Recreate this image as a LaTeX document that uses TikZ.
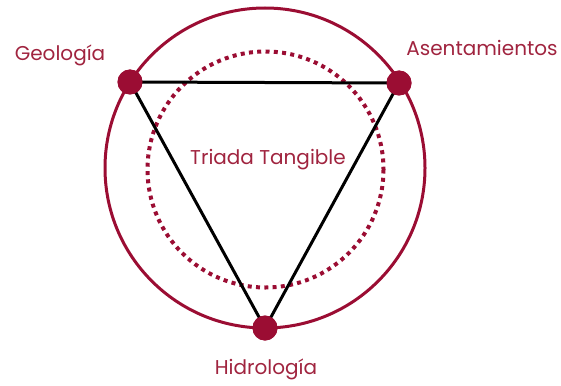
\documentclass[tikz,border=0pt]{standalone}
\usepackage{fontspec}
\setmainfont{Poppins}
\definecolor{wine}{HTML}{9B0D33}
\definecolor{winetext}{HTML}{A0243F}
\begin{document}
\begin{tikzpicture}[x=1pt,y=-1pt,
  dot/.style={circle,fill=wine,inner sep=0pt,minimum size=25pt},
  lbl/.style={text=winetext,font=\fontsize{20}{20}\selectfont,inner sep=0pt},
  edge/.style={black,line width=3pt},
  ring/.style={wine,line width=3pt},
  dotring/.style={wine,line width=4pt,dash pattern=on 4pt off 4.3pt}]
\useasboundingbox (0,0) rectangle (561,385);
\coordinate (c) at (265,168);
\coordinate (ci) at (265.5,169.5);
\draw[ring] (c) circle[radius=160];
\draw[dotring] (ci) circle[radius=118];
\node[dot] (geo) at (130,82) {};
\node[dot] (ase) at (399,83) {};
\node[dot] (hid) at (265,328) {};
\draw[edge] (geo.center) -- (ase.center) -- (hid.center) -- cycle;
\node[dot] at (geo) {};
\node[dot] at (ase) {};
\node[dot] at (hid) {};
\node[lbl] (lgeo) at (60,55) {Geología};
\node[lbl] (lase) at (482,48) {Asentamientos};
\node[lbl] (lhid) at (266,369) {Hidrología};
\node[lbl] (ltri) at (268,160) {Triada Tangible};
\end{tikzpicture}
\end{document}
